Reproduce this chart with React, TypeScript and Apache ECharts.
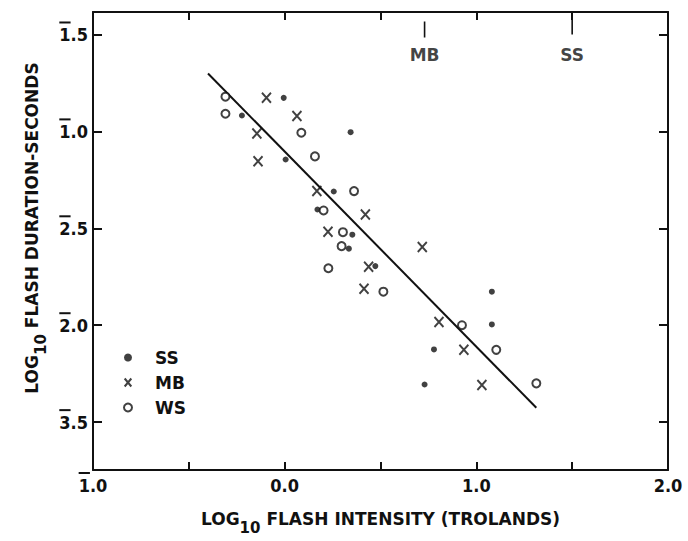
import React, { useEffect, useRef } from "react";
import * as echarts from "echarts";

// Axis ticks / labels (log10 units)
const xTickValues = [-1, -0.5, 0, 0.5, 1, 1.5, 2];
const xLabelValues = [-1, 0, 1, 2];
const yTickValues = [-0.5, -1, -1.5, -2, -2.5];
const xRange = [-1, 2];
const yRange = [-2.747, -0.384];

// SS (filled dots)
const ssX = [-0.005, -0.223, 0.344, 0.005, 0.256, 0.171, 0.353, 0.335, 0.473, 1.081, 1.081, 0.779, 0.73];
const ssY = [-0.827, -0.918, -1.004, -1.145, -1.31, -1.403, -1.533, -1.605, -1.695, -1.827, -1.996, -2.125, -2.306];

// MB (crosses)
const mbX = [-0.095, 0.064, -0.145, -0.139, 0.168, 0.421, 0.226, 0.718, 0.438, 0.414, 0.805, 0.935, 1.029];
const mbY = [-0.827, -0.921, -1.011, -1.154, -1.308, -1.429, -1.518, -1.597, -1.698, -1.812, -1.984, -2.127, -2.309];

// WS (open circles)
const wsX = [-0.309, -0.309, 0.087, 0.158, 0.362, 0.203, 0.304, 0.297, 0.228, 0.515, 0.925, 1.104, 1.313];
const wsY = [-0.821, -0.909, -1.007, -1.129, -1.308, -1.408, -1.52, -1.592, -1.706, -1.827, -2.0, -2.127, -2.3];

// fitted line
const fitX = [-0.4, 1.313];
const fitY = [-0.701, -2.426];

// threshold markers at top
const markerNames = ["MB", "SS"];
const markerX = [0.73, 1.5];
const markerTop = [-0.433, -0.384];
const markerBottom = [-0.516, -0.5];
const markerLabelY = [-0.55, -0.55];

const NUM_FONT = "'DejaVu Sans Condensed', 'DejaVu Sans', sans-serif";
const WORD_FONT = "'DejaVu Sans', 'Liberation Sans', sans-serif";
const INK = "#111";
const X_SYMBOL = "path://M0,0L10,12M10,0L0,12";
const NUM_SIZE = 18;

function measure(text: string): number {
  const c = document.createElement("canvas");
  const ctx = c.getContext("2d");
  if (!ctx) return text.length * NUM_SIZE * 0.55;
  ctx.font = `bold ${NUM_SIZE}px ${NUM_FONT}`;
  return ctx.measureText(text).width;
}

// bar notation: -0.5 -> 1̄.5 ; a bar row is drawn above the characteristic digit
function barRich(v: number): string {
  const r = Math.round(v * 10) / 10;
  if (r < 0) {
    const n = Math.floor(r + 1e-9);
    const frac = Math.round((r - n) * 10);
    return `{bar| }{gap| }\n{num|${-n}.${frac}}`;
  }
  const s = r.toFixed(1);
  return `{nobar| }{gap| }\n{num|${s}}`;
}

export default function App() {
  const ref = useRef<HTMLDivElement>(null);
  useEffect(() => {
    document.body.style.margin = "0";
    const digitW = measure("1");
    const gapW = measure(".5");
    const numRich = {
      bar: { width: digitW, height: 2, lineHeight: 5, backgroundColor: INK, verticalAlign: "top", fontSize: 4 },
      nobar: { width: digitW, height: 2, lineHeight: 5, verticalAlign: "top", fontSize: 4 },
      gap: { width: gapW, height: 2, lineHeight: 5, verticalAlign: "top", fontSize: 4 },
      num: { fontFamily: NUM_FONT, fontSize: NUM_SIZE, fontWeight: "bold", color: INK, lineHeight: 16 },
    };
    const chart = echarts.init(ref.current!, null, { renderer: "svg" });
    const axisLine = { show: true, onZero: false, lineStyle: { color: INK, width: 2 } };
    const tickStyle = { color: INK, width: 2 };
    const titleStyle = {
      fontFamily: WORD_FONT,
      fontSize: 17,
      fontWeight: "bold",
      color: INK,
      rich: {
        sub: { fontFamily: WORD_FONT, fontSize: 15, fontWeight: "bold", color: INK, padding: [17, 0, 0, 0] },
      },
    };
    const markerSeries: any[] = [];
    markerNames.forEach((name, i) => {
      markerSeries.push({
        type: "line",
        data: [
          [markerX[i], markerTop[i]],
          [markerX[i], markerBottom[i]],
        ],
        symbol: "none",
        lineStyle: { color: INK, width: 1.6 },
        silent: true,
      });
    });
    markerSeries.push({
      type: "scatter",
      data: markerNames.map((n, i) => ({ value: [markerX[i], markerLabelY[i]], name: n })),
      symbolSize: 0,
      silent: true,
      label: {
        show: true,
        position: "bottom",
        distance: 2,
        formatter: (p: any) => p.name,
        fontFamily: WORD_FONT,
        fontSize: 17,
        fontWeight: "bold",
        color: INK,
      },
    });
    chart.setOption({
      animation: false,
      backgroundColor: "#fff",
      grid: { left: 93, right: 20, top: 12, bottom: 71, outerBoundsMode: "none" },
      legend: {
        orient: "vertical",
        left: 118,
        top: 344,
        itemWidth: 44,
        itemHeight: 8,
        itemGap: 8,
        data: ["SS", "MB", "WS"],
        textStyle: { fontFamily: WORD_FONT, fontSize: 17, fontWeight: "bold", color: INK, lineHeight: 16 },
      },
      xAxis: [
        {
          type: "value",
          min: xRange[0],
          max: xRange[1],
          position: "bottom",
          splitLine: { show: false },
          axisLine,
          axisTick: { show: true, inside: true, length: 8, lineStyle: tickStyle, customValues: xTickValues },
          axisLabel: {
            show: true,
            customValues: xLabelValues,
            formatter: (v: number) => barRich(v),
            rich: numRich,
            margin: 2,
          },
          name: "LOG{sub|10} FLASH INTENSITY (TROLANDS)",
          nameLocation: "middle",
          nameGap: 33,
          nameTextStyle: titleStyle,
        },
        {
          type: "value",
          min: xRange[0],
          max: xRange[1],
          position: "top",
          splitLine: { show: false },
          axisLine,
          axisTick: { show: true, inside: true, length: 8, lineStyle: tickStyle, customValues: xTickValues },
          axisLabel: { show: false },
        },
      ],
      yAxis: [
        {
          type: "value",
          min: yRange[0],
          max: yRange[1],
          position: "left",
          splitLine: { show: false },
          axisLine,
          axisTick: { show: true, inside: true, length: 9, lineStyle: tickStyle, customValues: yTickValues },
          axisLabel: {
            show: true,
            customValues: yTickValues,
            formatter: (v: number) => barRich(v),
            rich: numRich,
            padding: [0, 0, 5, 0],
            margin: 5,
          },
          name: "LOG{sub|10} FLASH DURATION-SECONDS",
          nameLocation: "middle",
          nameGap: 45,
          nameTextStyle: { ...titleStyle, padding: [0, 0, 0, 26] },
        },
        {
          type: "value",
          min: yRange[0],
          max: yRange[1],
          position: "right",
          splitLine: { show: false },
          axisLine,
          axisTick: { show: true, inside: true, length: 9, lineStyle: tickStyle, customValues: yTickValues },
          axisLabel: { show: false },
        },
      ],
      series: [
        {
          type: "line",
          data: fitX.map((x, i) => [x, fitY[i]]),
          symbol: "none",
          lineStyle: { color: INK, width: 2 },
          silent: true,
          z: 1,
        },
        {
          name: "SS",
          type: "scatter",
          data: ssX.map((x, i) => [x, ssY[i]]),
          symbol: "circle",
          symbolSize: 6,
          itemStyle: { color: INK },
          z: 3,
        },
        {
          name: "MB",
          type: "scatter",
          data: mbX.map((x, i) => [x, mbY[i]]),
          symbol: X_SYMBOL,
          symbolSize: [9, 10],
          itemStyle: { color: "rgba(0,0,0,0)", borderColor: INK, borderWidth: 2 },
          z: 3,
        },
        {
          name: "WS",
          type: "scatter",
          data: wsX.map((x, i) => [x, wsY[i]]),
          symbol: "emptyCircle",
          symbolSize: 8,
          itemStyle: { color: INK, borderColor: INK, borderWidth: 1.8 },
          z: 3,
        },
        ...markerSeries,
      ],
    });
    return () => chart.dispose();
  }, []);
  return <div ref={ref} style={{ width: 688, height: 541 }} />;
}
